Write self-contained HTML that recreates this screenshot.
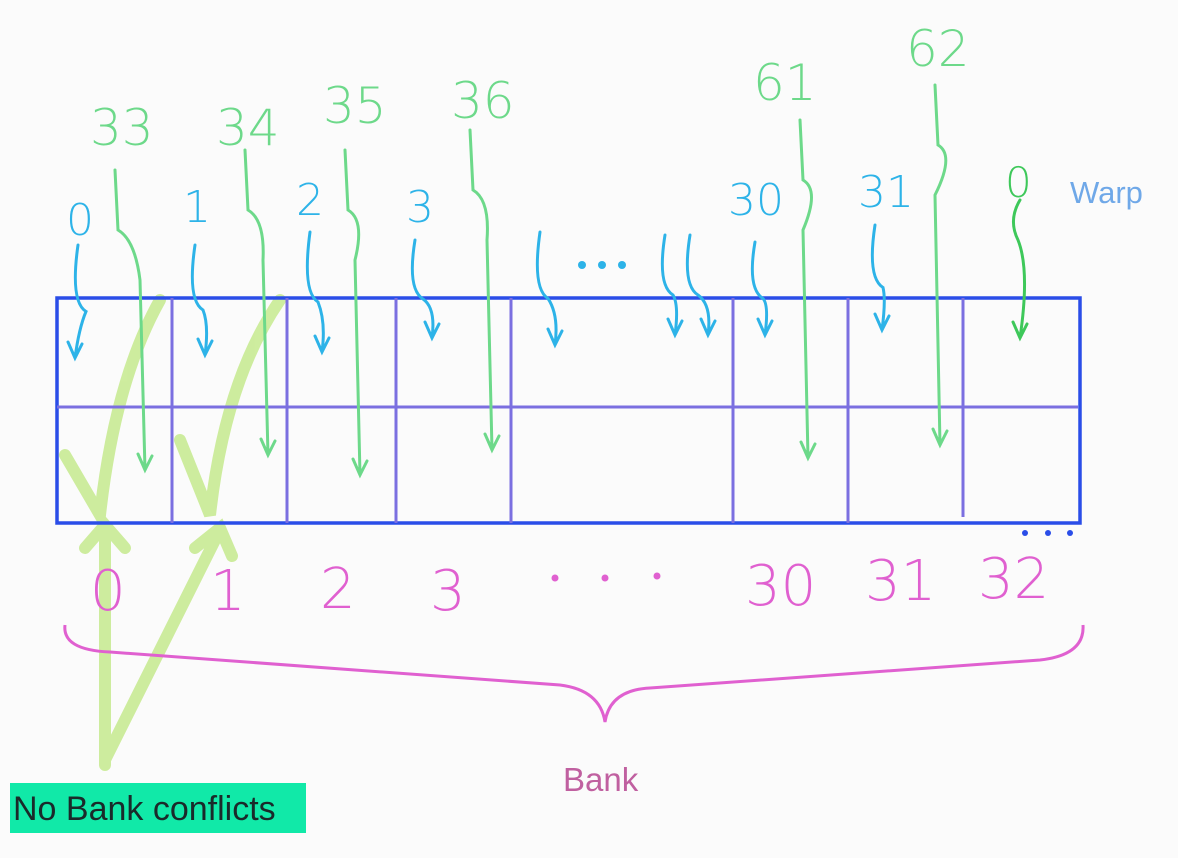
<!DOCTYPE html>
<html><head><meta charset="utf-8"><style>
html,body{margin:0;padding:0;background:#fbfbfb;}
svg{display:block;}
.hw{font-family:"DejaVu Sans","Liberation Sans",sans-serif;font-weight:300;}
</style></head>
<body>
<svg id="s" width="1178" height="858" viewBox="0 0 1178 858" xmlns="http://www.w3.org/2000/svg">
<rect width="1178" height="858" fill="#fbfbfb"/>
<g id="thick" fill="none" stroke="#c6ea8e" stroke-width="12" stroke-linecap="round" opacity="0.85">
<path d="M105 765 L105 525 M85 548 L105 525 L125 548"/>
<path d="M105 760 L220 530 M195 548 L220 528 L232 556"/>
<path d="M65 455 L100 515 Q115 380 160 300"/>
<path d="M180 440 L210 515 Q225 380 280 300"/>
</g>
<rect x="57" y="298" width="1023" height="225" fill="none" stroke="#2a4de8" stroke-width="3.5"/>
<g id="grid" stroke="#7b6fe0" stroke-width="3">
<line x1="57" y1="407" x2="1078" y2="407"/>
</g>
<g id="arrows" fill="none" stroke-width="3" stroke-linecap="round"></g>
<g id="labels"></g>
<path d="M65 625 Q62 650 110 652 L560 685 Q600 690 605 722 Q610 690 650 688 L1040 660 Q1085 655 1083 625" fill="none" stroke="#e060d0" stroke-width="3"/>
<g fill="#2a4de8"><circle cx="1025" cy="533" r="3"/><circle cx="1048" cy="533" r="3"/><circle cx="1070" cy="533" r="3"/></g>
<g fill="#2db3e8"><circle cx="582" cy="265" r="4"/><circle cx="602" cy="265" r="4"/><circle cx="622" cy="265" r="4"/></g>
<g fill="#e060d0"><circle cx="555" cy="578" r="3.5"/><circle cx="605" cy="578" r="3.5"/><circle cx="657" cy="576" r="3.5"/></g>
<text x="1070" y="203" font-family="Liberation Sans, sans-serif" font-size="31" fill="#6fa8e8">Warp</text>
<text x="563" y="791" font-family="Liberation Sans, sans-serif" font-size="33" fill="#c060a0">Bank</text>
<rect x="10" y="783" width="296" height="50" fill="#11e9a8"/>
<text x="13" y="820" font-family="Liberation Sans, sans-serif" font-size="34" fill="#1a2a2a">No Bank conflicts</text>
</svg>
<script>
const cellEdges=[172,287,396,511,733,848,963];
const blueLabels=["0","1","2","3","30","31"];
const greenLabels=["33","34","35","36","61","62"];
const bankLabels=["0","1","2","3","30","31","32"];
const NS="http://www.w3.org/2000/svg";
const s=document.getElementById('s');
const grid=document.getElementById('grid');
cellEdges.forEach((x,i)=>{const l=document.createElementNS(NS,'line');
l.setAttribute('x1',x);l.setAttribute('x2',x);l.setAttribute('y1',298);l.setAttribute('y2',i==6?517:523);


grid.appendChild(l);});
const labels=document.getElementById('labels');
function txt(t,x,y,sz,c,name){const e=document.createElementNS(NS,'text');e.textContent=t;
e.setAttribute('x',x);e.setAttribute('y',y);e.setAttribute('font-size',sz);e.setAttribute('fill',c);e.setAttribute('class','hw');


labels.appendChild(e);}
const bPos=[[66,235],[183,222],[296,215],[406,222],[728,215],[858,207]];
blueLabels.forEach((t,i)=>txt(t,bPos[i][0],bPos[i][1],44,'#2db3e8','thread-label'));
const gPos=[[90,145],[216,145],[323,123],[451,118],[753,100],[906,66]];
greenLabels.forEach((t,i)=>txt(t,gPos[i][0],gPos[i][1],50,'#6dd98a','thread-label-second'));
txt('0',1005,197,42,'#3ec85a','thread-label-warp-0');
const pPos=[[90,610],[210,610],[320,608],[430,610],[745,605],[865,600],[978,598]];
bankLabels.forEach((t,i)=>txt(t,pPos[i][0],pPos[i][1],56,'#e060d0','bank-index'));
const arrows=document.getElementById('arrows');
function arrow(d,tip,c,name){const p=document.createElementNS(NS,'path');
p.setAttribute('d',d+' M'+(tip[0]-7)+' '+(tip[1]-16)+' L'+tip[0]+' '+tip[1]+' L'+(tip[0]+7)+' '+(tip[1]-14));
p.setAttribute('stroke',c);


arrows.appendChild(p);}
const blueArrows=[[78,245,75,358],[195,245,205,355],[310,232,322,352],[415,240,432,338],[540,232,555,345],[665,235,675,335],[690,235,708,335],[755,242,765,335],[875,225,882,330]];
blueArrows.forEach(a=>arrow(`M${a[0]} ${a[1]} Q${a[0]-8} ${(a[1]+a[3])/2} ${a[0]+8} ${(a[1]+a[3])/2+10} Q${a[2]+4} ${a[3]-30} ${a[2]} ${a[3]}`,[a[2],a[3]],'#2db3e8','thread-arrow'));
const greenArrows=[[115,170,145,470],[245,150,268,455],[345,150,360,475],[470,130,492,450],[800,120,808,458],[935,85,940,445]];
greenArrows.forEach(a=>arrow(`M${a[0]} ${a[1]} L${a[0]+3} ${a[1]+60} Q${a[0]+20} ${a[1]+70} ${a[2]-5} ${a[1]+110} L${a[2]} ${a[3]}`,[a[2],a[3]],'#6dd98a','thread-arrow-second'));
arrow('M1020 200 Q1008 220 1018 240 Q1030 270 1020 338',[1020,338],'#3ec85a','thread-arrow-warp-0');
</script>
</body></html>
